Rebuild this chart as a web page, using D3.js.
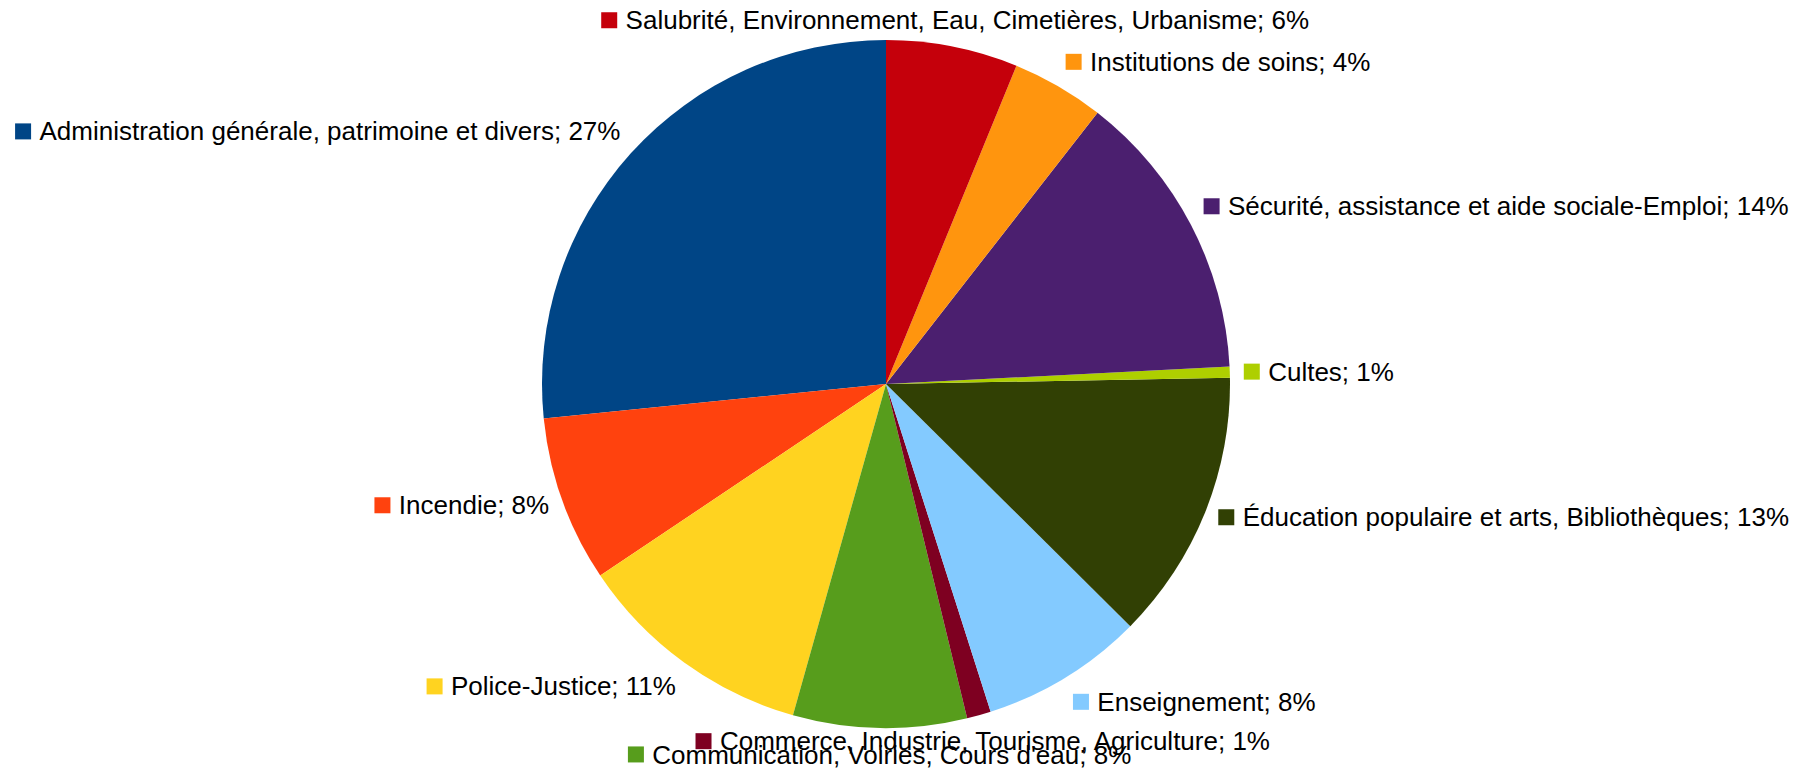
<!DOCTYPE html>
<html>
<head>
<meta charset="utf-8">
<script src="https://cdn.jsdelivr.net/npm/d3@7"></script>
<style>
  html, body { margin: 0; padding: 0; background: #ffffff; }
  svg { display: block; }
  text { font-family: "Liberation Sans", Arial, sans-serif; }
</style>
</head>
<body>
<svg id="chart" width="1812" height="768"></svg>
<script>
// ---- Data (counter-clockwise from 12 o'clock, LibreOffice order) ----
const categories = [
  "Administration générale, patrimoine et divers",
  "Incendie",
  "Police-Justice",
  "Communication, Voiries, Cours d'eau",
  "Commerce, Industrie, Tourisme, Agriculture",
  "Enseignement",
  "Éducation populaire et arts, Bibliothèques",
  "Cultes",
  "Sécurité, assistance et aide sociale-Emploi",
  "Institutions de soins",
  "Salubrité, Environnement, Eau, Cimetières, Urbanisme"
];
const values = [26.6, 7.8, 11.24, 8.15, 1.13, 7.65, 12.72, 0.52, 13.65, 4.35, 6.19];
const colors = ["#004586", "#ff420e", "#ffd320", "#579d1c", "#7e0021", "#83caff",
                "#314004", "#aecf00", "#4b1f6f", "#ff950e", "#c5000b"];

// ---- Layout ----
const W = 1812, H = 768;
const cx = 886, cy = 384, radius = 344;
const labelRadius = 358;
const fontSize = 26;
const keySize = 16, keyGap = 8.4;
const boxH = 25;

const svg = d3.select("#chart");
const total = d3.sum(values);
const data = categories.map((c, i) => ({ name: c, value: values[i], color: colors[i] }));

const pie = d3.pie().value(d => d.value).sort(null).startAngle(0).endAngle(-2 * Math.PI);
const arcs = pie(data);
const arc = d3.arc().innerRadius(0).outerRadius(radius);

const g = svg.append("g").attr("transform", `translate(${cx},${cy})`);
g.selectAll("path.slice").data(arcs).enter().append("path")
  .attr("class", "slice")
  .attr("d", arc)
  .attr("fill", d => d.data.color);

// ---- Labels (LibreOffice-style outside placement) ----
const labels = svg.append("g").attr("class", "labels");
arcs.forEach(d => {
  const a = (d.startAngle + d.endAngle) / 2;
  let deg = (a * 180 / Math.PI) % 360;
  if (deg < 0) deg += 360;
  const s = Math.floor(((deg + 22.5) % 360) / 45);
  const px = cx + labelRadius * Math.sin(a);
  const py = cy - labelRadius * Math.cos(a);
  const txt = d.data.name + "; " + Math.round(d.value / total * 100) + "%";

  const lg = labels.append("g");
  const t = lg.append("text")
    .attr("font-size", fontSize)
    .attr("fill", "#000")
    .text(txt);
  const tw = t.node().getComputedTextLength();
  const w = keySize + keyGap + tw;

  let bx;
  if (s === 1 || s === 2 || s === 3) bx = px;
  else if (s === 5 || s === 6 || s === 7) bx = px - w;
  else bx = px - w / 2;
  let by;
  if (s === 7 || s === 0 || s === 1) by = py - boxH / 2;
  else if (s === 3 || s === 4 || s === 5) by = py + boxH / 2;
  else by = py;

  lg.insert("rect", "text")
    .attr("x", bx).attr("y", by - keySize / 2)
    .attr("width", keySize).attr("height", keySize)
    .attr("fill", d.data.color);
  t.attr("x", bx + keySize + keyGap).attr("y", by + 0.35 * fontSize);
});
</script>
</body>
</html>
